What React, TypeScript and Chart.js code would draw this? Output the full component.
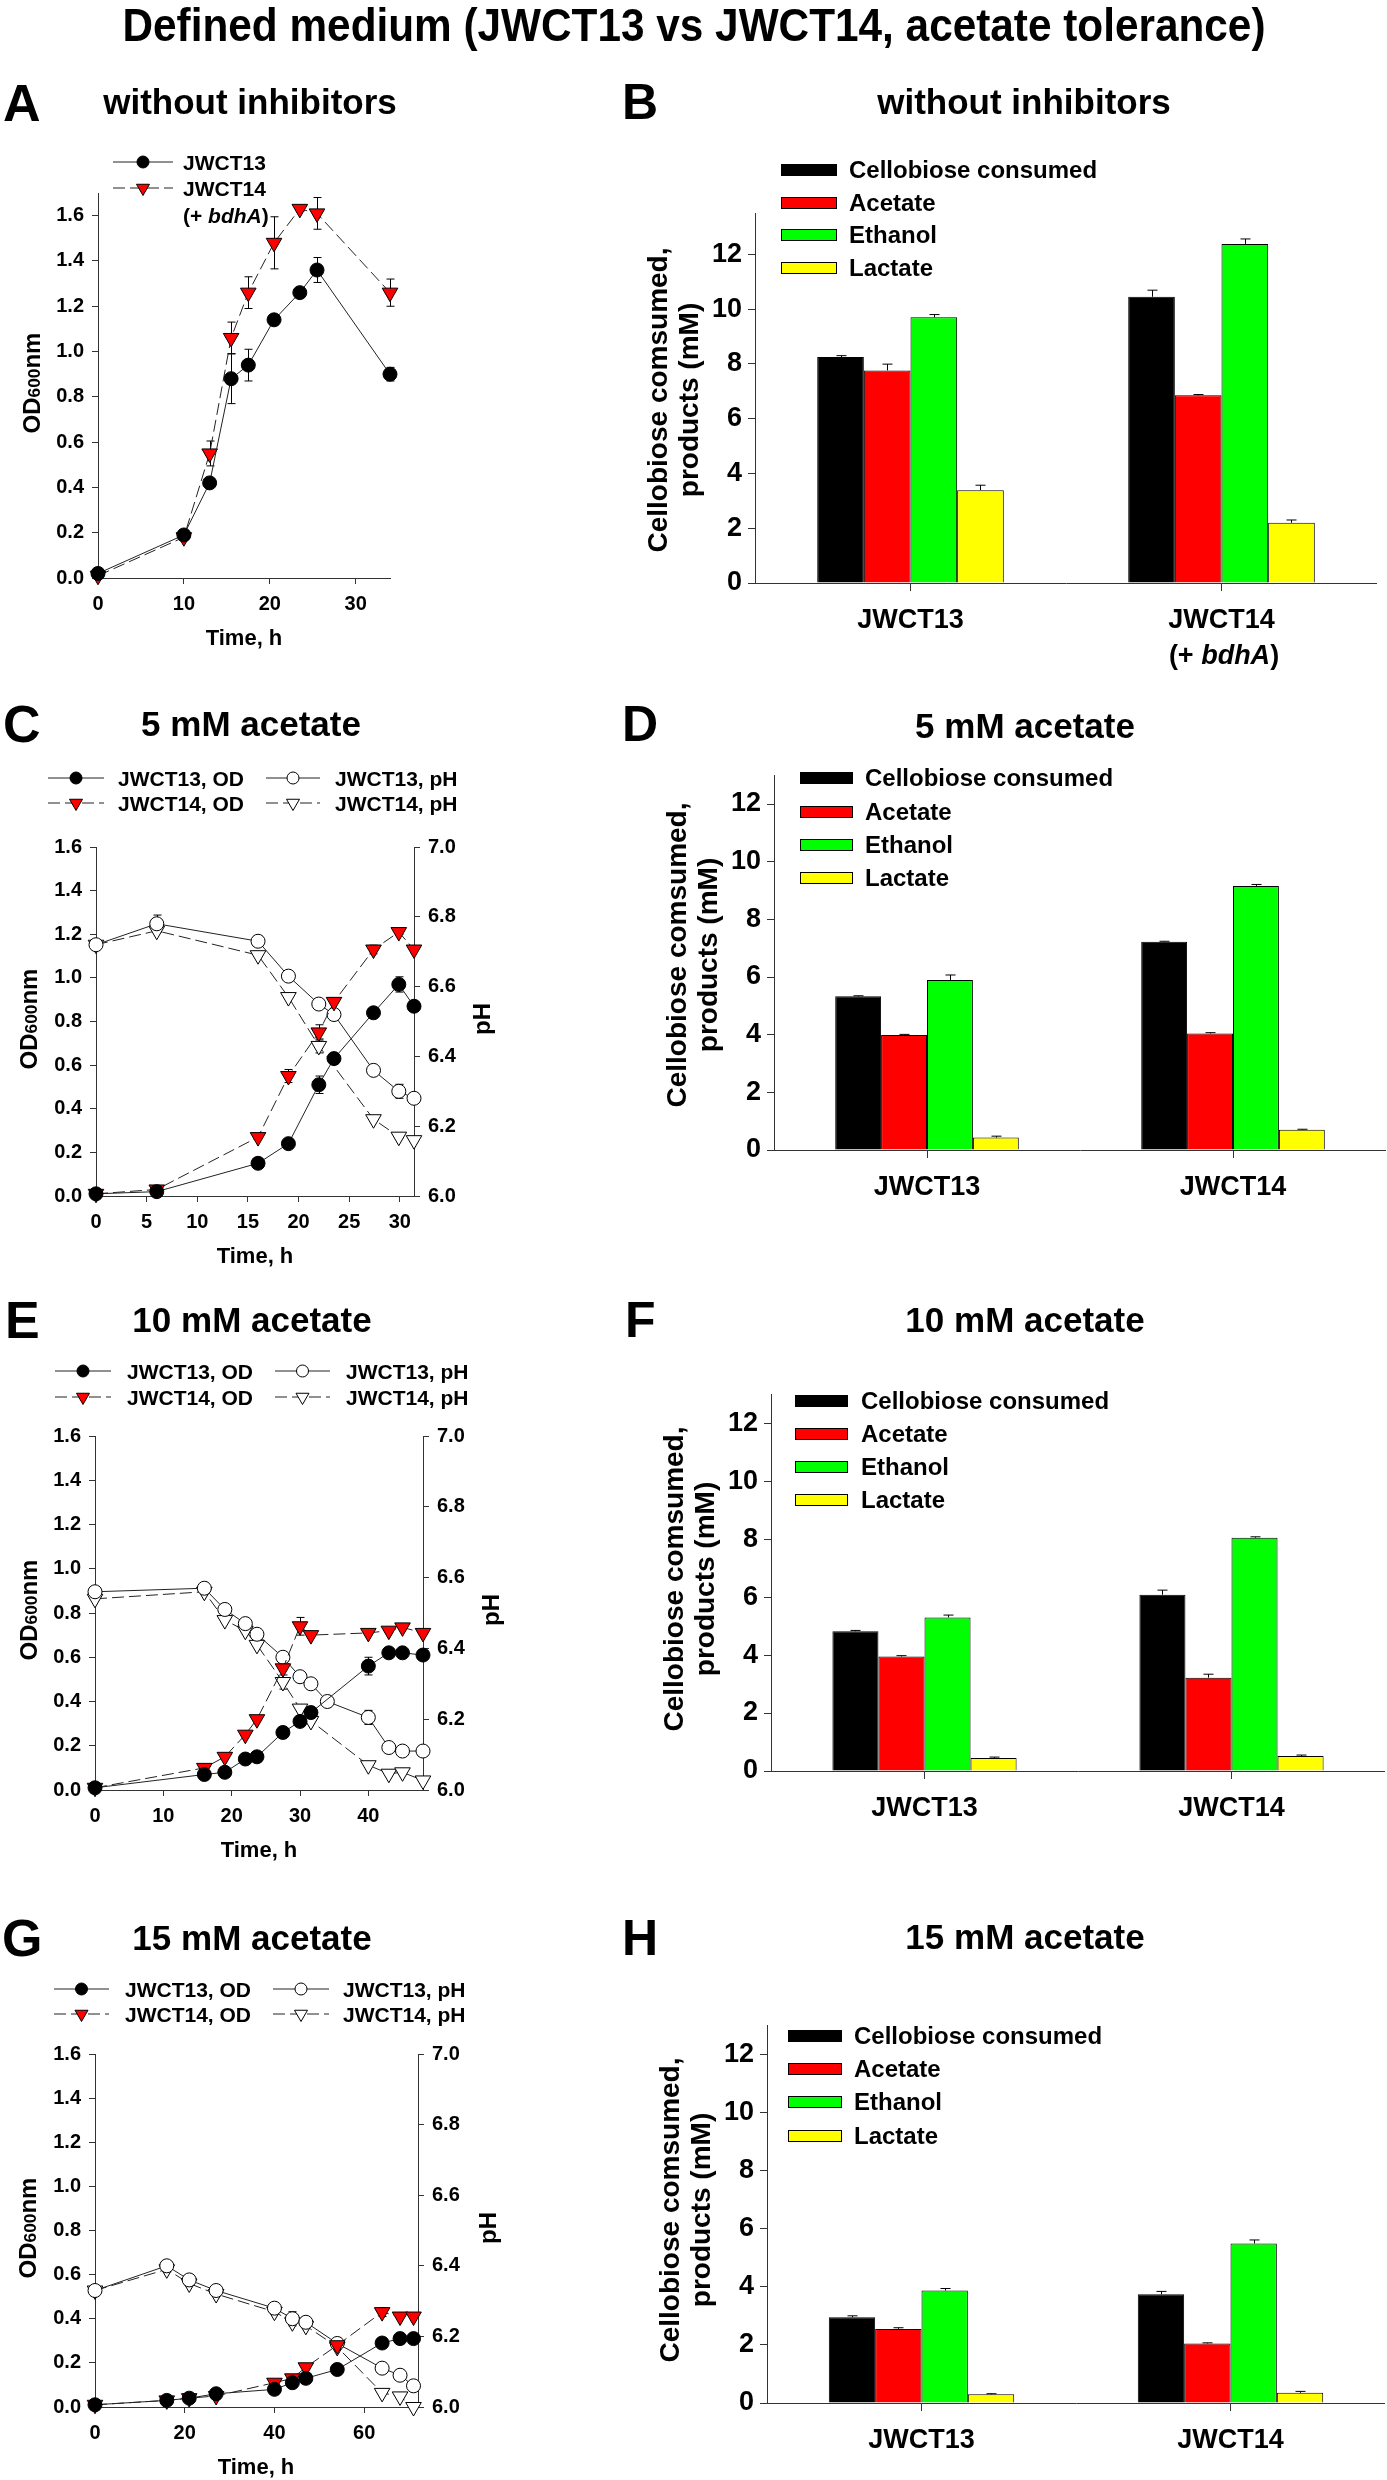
import React, { useEffect, useRef } from "react";
import { Chart, registerables } from "chart.js";

Chart.register(...registerables);

const FONT = "'Liberation Sans', Arial, Helvetica, sans-serif";
const AXIS_COLOR = "#333333";

// ---------------- Panel A : without inhibitors (OD600) ----------------
const timeA = [0, 10, 13, 15.5, 17.5, 20.5, 23.5, 25.5, 34];
const odA_13 = [0.02, 0.19, 0.42, 0.88, 0.94, 1.14, 1.26, 1.36, 0.9];
const errA_13 = [0.01, 0.01, 0.02, 0.11, 0.07, 0.02, 0.02, 0.055, 0.03];
const odA_14 = [0.01, 0.18, 0.55, 1.06, 1.26, 1.48, 1.63, 1.61, 1.26];
const errA_14 = [0.01, 0.01, 0.055, 0.07, 0.07, 0.115, 0.01, 0.07, 0.06];

// ---------------- Panel C : 5 mM acetate ----------------
const timeC = [0, 6, 16, 19, 22, 23.5, 27.4, 29.9, 31.4];
const odC_13 = [0.01, 0.02, 0.15, 0.24, 0.51, 0.63, 0.84, 0.97, 0.87];
const errC_13 = [0, 0, 0, 0, 0.04, 0, 0, 0.035, 0];
const odC_14 = [0.01, 0.03, 0.27, 0.55, 0.75, 0.89, 1.13, 1.21, 1.13];
const errC_14 = [0, 0, 0, 0.03, 0.035, 0, 0.02, 0.01, 0];
const phC_13 = [6.72, 6.78, 6.73, 6.63, 6.55, 6.52, 6.36, 6.3, 6.28];
const errPhC_13 = [0.01, 0.025, 0, 0, 0, 0, 0, 0.02, 0];
const timeC_ph14 = [0, 6, 16, 19, 22, 27.4, 29.9, 31.4];
const phC_14 = [6.72, 6.76, 6.69, 6.57, 6.43, 6.22, 6.17, 6.16];
const errPhC_14 = [0, 0, 0, 0, 0.02, 0, 0, 0];

// ---------------- Panel E : 10 mM acetate ----------------
const timeE = [0, 16, 19, 22, 23.7, 27.5, 30, 31.6, 40, 43, 45, 48];
const odE_13 = [0.01, 0.07, 0.08, 0.14, 0.15, 0.26, 0.31, 0.35, 0.56, 0.62, 0.62, 0.61];
const errE_13 = [0, 0, 0, 0, 0, 0, 0, 0, 0.04, 0, 0, 0];
const odE_14 = [0.01, 0.1, 0.15, 0.25, 0.32, 0.55, 0.74, 0.7, 0.71, 0.72, 0.735, 0.71];
const errE_14 = [0, 0, 0, 0, 0, 0.05, 0.04, 0, 0, 0, 0, 0];
const timeE_ph13 = [0, 16, 19, 22, 23.7, 27.5, 30, 31.6, 34, 40, 43, 45, 48];
const phE_13 = [6.56, 6.57, 6.51, 6.47, 6.44, 6.375, 6.32, 6.3, 6.25, 6.205, 6.12, 6.11, 6.11];
const errPhE_13 = [0.01, 0, 0, 0, 0, 0, 0, 0, 0, 0.02, 0, 0, 0];
const timeE_ph14 = [0, 16, 19, 22, 23.7, 27.5, 30, 31.6, 40, 43, 45, 48];
const phE_14 = [6.54, 6.56, 6.48, 6.45, 6.41, 6.305, 6.23, 6.195, 6.07, 6.046, 6.05, 6.027];
const errPhE_14 = [0, 0, 0, 0, 0, 0.02, 0, 0, 0, 0, 0, 0];

// ---------------- Panel G : 15 mM acetate ----------------
const timeG = [0, 16, 21, 27, 40, 44, 47, 54, 64, 68, 71];
const odG_13 = [0.01, 0.03, 0.04, 0.06, 0.08, 0.11, 0.13, 0.17, 0.29, 0.31, 0.31];
const errG_13 = [0, 0, 0, 0, 0, 0, 0, 0, 0.02, 0, 0.02];
const odG_14 = [0.01, 0.03, 0.04, 0.05, 0.11, 0.13, 0.18, 0.28, 0.43, 0.41, 0.41];
const errG_14 = [0, 0, 0, 0, 0, 0, 0, 0, 0.02, 0, 0];
const phG_13 = [6.33, 6.4, 6.36, 6.33, 6.28, 6.25, 6.24, 6.18, 6.11, 6.09, 6.06];
const errPhG_13 = [0, 0.01, 0, 0, 0, 0.02, 0, 0, 0, 0, 0];
const phG_14 = [6.33, 6.39, 6.35, 6.32, 6.27, 6.24, 6.23, 6.17, 6.04, 6.03, 6.0];
const errPhG_14 = [0, 0, 0, 0, 0, 0, 0, 0, 0, 0, 0];

// ---------------- Bar panels ----------------
const barCategories = ["JWCT13", "JWCT14"];
const productLabels = ["Cellobiose consumed", "Acetate", "Ethanol", "Lactate"];
const productColors = ["#000000", "#ff0000", "#00ff00", "#ffff00"];

// B : without inhibitors
const cellobioseB = [8.25, 10.45];
const acetateB = [7.76, 6.85];
const ethanolB = [9.7, 12.38];
const lactateB = [3.39, 2.2];
const errB = [[0.05, 0.24], [0.23, 0.03], [0.1, 0.18], [0.18, 0.1]];
// D : 5 mM acetate
const cellobioseD = [5.33, 7.22];
const acetateD = [3.99, 4.04];
const ethanolD = [5.9, 9.16];
const lactateD = [0.43, 0.7];
const errD = [[0.02, 0.02], [0.02, 0.03], [0.17, 0.05], [0.05, 0.02]];
// F : 10 mM acetate
const cellobioseF = [4.82, 6.08];
const acetateF = [3.95, 3.22];
const ethanolF = [5.3, 8.05];
const lactateF = [0.45, 0.52];
const errF = [[0.03, 0.16], [0.03, 0.12], [0.08, 0.03], [0.03, 0.03]];
// H : 15 mM acetate
const cellobioseH = [2.95, 3.74];
const acetateH = [2.55, 2.05];
const ethanolH = [3.87, 5.49];
const lactateH = [0.3, 0.35];
const errH = [[0.05, 0.1], [0.04, 0.02], [0.07, 0.12], [0.02, 0.05]];

const lineLegendLabels = ["JWCT13, OD", "JWCT14, OD", "JWCT13, pH", "JWCT14, pH"];

// ---------------- error bar plugin ----------------
function drawErrorBars(chart: any, barPhase: boolean) {
  const ctx = chart.ctx;
  chart.data.datasets.forEach((ds: any, di: number) => {
    const errs = ds.errors;
    if (!errs) return;
    const meta = chart.getDatasetMeta(di);
    const isBar = meta.type === "bar";
    if (isBar !== barPhase) return;
    const yScale = chart.scales[meta.yAxisID];
    ctx.save();
    ctx.strokeStyle = "#000";
    ctx.lineWidth = 1;
    meta.data.forEach((el: any, i: number) => {
      const e = errs[i];
      if (!e) return;
      const raw = ds.data[i];
      const v = typeof raw === "number" ? raw : raw.y;
      const x = Math.round(el.x) + 0.5;
      const yTop = yScale.getPixelForValue(v + e);
      const yBot = isBar ? el.y : yScale.getPixelForValue(v - e);
      const cap = isBar ? 5 : 4;
      ctx.beginPath();
      ctx.moveTo(x, yTop);
      ctx.lineTo(x, yBot);
      ctx.moveTo(x - cap, yTop);
      ctx.lineTo(x + cap, yTop);
      if (!isBar) {
        ctx.moveTo(x - cap, yBot);
        ctx.lineTo(x + cap, yBot);
      }
      ctx.stroke();
    });
    ctx.restore();
  });
}

const errorBarPlugin = {
  id: "errorBars",
  beforeDatasetsDraw(chart: any) {
    drawErrorBars(chart, false);
  },
  afterDatasetsDraw(chart: any) {
    drawErrorBars(chart, true);
  },
};

// ---------------- helpers ----------------
const tickFont = (size: number) => ({ family: FONT, size, weight: "bold" as const });

type Kind = "od13" | "od14" | "ph13" | "ph14";
function lineSet(xs: number[], ys: number[], errs: number[], kind: Kind) {
  const is14 = kind === "od14" || kind === "ph14";
  const isPh = kind === "ph13" || kind === "ph14";
  const fill = kind === "od13" ? "#000000" : kind === "od14" ? "#ff0000" : "#ffffff";
  return {
    data: xs.map((x, i) => ({ x, y: ys[i] })),
    errors: errs,
    yAxisID: isPh ? "y1" : "y",
    showLine: true,
    tension: 0,
    clip: false,
    borderColor: "#222222",
    borderWidth: 1,
    borderDash: is14 ? [12, 5] : [],
    pointStyle: is14 ? "triangle" : "circle",
    pointRotation: is14 ? 180 : 0,
    pointRadius: is14 ? 9 : 7,
    pointBackgroundColor: fill,
    pointBorderColor: "#000000",
    pointBorderWidth: 1,
  };
}

type Geom = { L: number; T: number; R: number; B: number };
const LAW = 80, LRW = 70, LTP = 15, LBH = 45;

function lineBox(g: Geom, dual: boolean) {
  const rw = dual ? LRW : 25;
  return { x: g.L - LAW, y: g.T - LTP, w: LAW + (g.R - g.L) + rw, h: LTP + (g.B - g.T) + LBH };
}

function lineConfig(g: Geom, datasets: any[], xMax: number, xStep: number, yMax: number, dual: boolean) {
  const yAxis = (pos: "left" | "right", min: number, max: number) => ({
    type: "linear",
    position: pos,
    min,
    max,
    ticks: {
      stepSize: 0.2,
      includeBounds: false,
      callback: (v: any) => Number(v).toFixed(1),
      font: tickFont(20),
      color: "#000",
      padding: 8,
    },
    grid: { drawOnChartArea: false, drawTicks: true, tickLength: 6, color: AXIS_COLOR },
    border: { display: true, color: AXIS_COLOR, width: 1 },
    afterFit: (s: any) => {
      s.width = pos === "left" ? LAW : LRW;
    },
  });
  const scales: any = {
    x: {
      type: "linear",
      position: "bottom",
      min: 0,
      max: xMax,
      ticks: {
        stepSize: xStep,
        includeBounds: false,
        font: tickFont(20),
        color: "#000",
        padding: 8,
        maxRotation: 0,
        autoSkip: false,
      },
      grid: { drawOnChartArea: false, drawTicks: true, tickLength: 6, color: AXIS_COLOR },
      border: { display: true, color: AXIS_COLOR, width: 1 },
      afterFit: (s: any) => {
        s.height = LBH;
      },
    },
    y: yAxis("left", 0, yMax),
  };
  if (dual) scales.y1 = yAxis("right", 6, 7);
  return {
    type: "scatter",
    data: { datasets },
    options: {
      responsive: false,
      animation: false,
      devicePixelRatio: 1,
      events: [],
      layout: { padding: { top: LTP, right: dual ? 0 : 25, left: 0, bottom: 0 }, autoPadding: false },
      plugins: { legend: { display: false }, tooltip: { enabled: false }, title: { display: false } },
      scales,
    },
    plugins: [errorBarPlugin],
  };
}

const BAW = 60, BTP = 15, BBH = 55;
function barBox(g: Geom) {
  return { x: g.L - BAW, y: g.T - BTP, w: BAW + (g.R - g.L), h: BTP + (g.B - g.T) + BBH };
}

function barConfig(values: number[][], errs: number[][], yMax: number) {
  return {
    type: "bar",
    data: {
      labels: barCategories,
      datasets: values.map((v, i) => ({
        label: productLabels[i],
        data: v,
        errors: errs[i],
        backgroundColor: productColors[i],
        borderColor: "#000000",
        borderWidth: 1,
        barPercentage: 1,
        categoryPercentage: 0.6,
      })),
    },
    options: {
      responsive: false,
      animation: false,
      devicePixelRatio: 1,
      events: [],
      layout: { padding: { top: BTP, right: 0, left: 0, bottom: 0 }, autoPadding: false },
      plugins: { legend: { display: false }, tooltip: { enabled: false }, title: { display: false } },
      scales: {
        x: {
          type: "category",
          offset: true,
          ticks: { font: tickFont(27), color: "#000", padding: 13, maxRotation: 0, autoSkip: false },
          grid: { offset: false, drawOnChartArea: false, drawTicks: true, tickLength: 8, color: AXIS_COLOR },
          border: { display: true, color: AXIS_COLOR, width: 1 },
          afterFit: (s: any) => {
            s.height = BBH;
          },
        },
        y: {
          type: "linear",
          min: 0,
          max: yMax,
          ticks: { stepSize: 2, includeBounds: false, font: tickFont(27), color: "#000", padding: 6 },
          grid: { drawOnChartArea: false, drawTicks: true, tickLength: 7, color: AXIS_COLOR },
          border: { display: true, color: AXIS_COLOR, width: 1 },
          afterFit: (s: any) => {
            s.width = BAW;
          },
        },
      },
    },
    plugins: [errorBarPlugin],
  };
}

function ChartBox({ box, make }: { box: { x: number; y: number; w: number; h: number }; make: () => any }) {
  const ref = useRef<HTMLCanvasElement>(null);
  useEffect(() => {
    const chart = new Chart(ref.current as HTMLCanvasElement, make());
    return () => chart.destroy();
  }, []);
  return (
    <canvas
      ref={ref}
      width={box.w}
      height={box.h}
      style={{ position: "absolute", left: box.x, top: box.y, width: box.w, height: box.h }}
    />
  );
}

function Txt({
  x, y, size, align = "left", rot, sx, children,
}: { x: number; y: number; size: number; align?: "left" | "center" | "right"; rot?: number; sx?: number; children: React.ReactNode }) {
  const tx = align === "center" ? "-50%" : align === "right" ? "-100%" : "0";
  return (
    <div
      style={{
        position: "absolute",
        left: x,
        top: y,
        transform: `translate(${tx}, -50%)${rot ? ` rotate(${rot}deg)` : ""}${sx ? ` scaleX(${sx})` : ""}`,
        fontFamily: FONT,
        fontWeight: 700,
        fontSize: size,
        lineHeight: 1,
        whiteSpace: "nowrap",
        color: "#000",
      }}
    >
      {children}
    </div>
  );
}

// ---------------- geometry ----------------
const gA: Geom = { L: 98, T: 188, R: 390, B: 578 };
const gC: Geom = { L: 96, T: 842, R: 414, B: 1196 };
const gE: Geom = { L: 95, T: 1431, R: 423, B: 1790 };
const gG: Geom = { L: 95, T: 2049, R: 418, B: 2407 };
const gB: Geom = { L: 755, T: 206, R: 1377, B: 583 };
const gD: Geom = { L: 774, T: 768, R: 1386, B: 1150 };
const gF: Geom = { L: 771, T: 1387, R: 1385, B: 1771 };
const gH: Geom = { L: 767, T: 2018, R: 1385, B: 2403 };

function Marker({ cx, cy, kind, r }: { cx: number; cy: number; kind: Kind; r: number }) {
  const fill = kind === "od13" ? "#000" : kind === "od14" ? "#ff0000" : "#fff";
  if (kind === "od13" || kind === "ph13") {
    return <circle cx={cx} cy={cy} r={r} fill={fill} stroke="#000" strokeWidth={1} />;
  }
  const R = r * 1.25;
  const dx = R * 0.866;
  return (
    <polygon
      points={`${cx},${cy + R} ${cx - dx},${cy - R / 2} ${cx + dx},${cy - R / 2}`}
      fill={fill}
      stroke="#000"
      strokeWidth={1}
    />
  );
}

function LegendSym({ x1, x2, y, kind }: { x1: number; x2: number; y: number; kind: Kind }) {
  const dashed = kind === "od14" || kind === "ph14";
  return (
    <g>
      <line x1={x1} y1={y} x2={x2} y2={y} stroke="#222" strokeWidth={1} strokeDasharray={dashed ? "12 5" : undefined} />
      <Marker cx={(x1 + x2) / 2} cy={y} kind={kind} r={6} />
    </g>
  );
}

const OD = () => (
  <>
    OD<span style={{ fontSize: "0.72em" }}>600</span>nm
  </>
);

type LineLegendPos = { rows: number[]; c1: [number, number]; t1: number; c2: [number, number]; t2: number };
const legC: LineLegendPos = { rows: [778, 803], c1: [48, 104], t1: 118, c2: [266, 320], t2: 335 };
const legE: LineLegendPos = { rows: [1371, 1397], c1: [55, 111], t1: 127, c2: [275, 330], t2: 346 };
const legG: LineLegendPos = { rows: [1989, 2014], c1: [54, 109], t1: 125, c2: [273, 329], t2: 343 };

type BarLegendPos = { x1: number; x2: number; rows: number[]; tx: number };
const legB: BarLegendPos = { x1: 781, x2: 836, rows: [170, 203, 235, 268], tx: 849 };
const legD: BarLegendPos = { x1: 800, x2: 852, rows: [778, 812, 845, 878], tx: 865 };
const legF: BarLegendPos = { x1: 795, x2: 847, rows: [1401, 1434, 1467, 1500], tx: 861 };
const legH: BarLegendPos = { x1: 788, x2: 841, rows: [2036, 2069, 2102, 2136], tx: 854 };

export default function App() {
  const kinds: Kind[] = ["od13", "od14", "ph13", "ph14"];
  const lineLegendSvg = (p: LineLegendPos) =>
    kinds.map((k, i) => {
      const col = i < 2 ? p.c1 : p.c2;
      const y = p.rows[i % 2];
      return <LegendSym key={k} x1={col[0]} x2={col[1]} y={y} kind={k} />;
    });
  const lineLegendText = (p: LineLegendPos) =>
    lineLegendLabels.map((lab, i) => (
      <Txt key={lab} x={i < 2 ? p.t1 : p.t2} y={p.rows[i % 2]} size={21}>
        {lab}
      </Txt>
    ));
  const barLegendSvg = (p: BarLegendPos) =>
    productColors.map((c, i) => (
      <rect key={c} x={p.x1 + 0.5} y={p.rows[i] - 5.5} width={p.x2 - p.x1} height={11} fill={c} stroke="#000" strokeWidth={1} />
    ));
  const barLegendText = (p: BarLegendPos) =>
    productLabels.map((lab, i) => (
      <Txt key={lab} x={p.tx} y={p.rows[i]} size={24}>
        {lab}
      </Txt>
    ));
  const barYTitle = (g: Geom, cy: number) => (
    <>
      <Txt x={g.L - 97} y={cy} size={28} align="center" rot={-90}>
        Cellobiose comsumed,
      </Txt>
      <Txt x={g.L - 66} y={cy} size={28} align="center" rot={-90}>
        products (mM)
      </Txt>
    </>
  );

  return (
    <div style={{ position: "absolute", left: 0, top: 0, width: 1387, height: 2480, background: "#fff", overflow: "hidden" }}>
      {/* line panels */}
      <ChartBox
        box={lineBox(gA, false)}
        make={() =>
          lineConfig(gA, [lineSet(timeA, odA_13, errA_13, "od13"), lineSet(timeA, odA_14, errA_14, "od14")], 34, 10, 1.7, false)
        }
      />
      <ChartBox
        box={lineBox(gC, true)}
        make={() =>
          lineConfig(
            gC,
            [
              lineSet(timeC, odC_13, errC_13, "od13"),
              lineSet(timeC, odC_14, errC_14, "od14"),
              lineSet(timeC, phC_13, errPhC_13, "ph13"),
              lineSet(timeC_ph14, phC_14, errPhC_14, "ph14"),
            ],
            31.4, 5, 1.6, true
          )
        }
      />
      <ChartBox
        box={lineBox(gE, true)}
        make={() =>
          lineConfig(
            gE,
            [
              lineSet(timeE, odE_13, errE_13, "od13"),
              lineSet(timeE, odE_14, errE_14, "od14"),
              lineSet(timeE_ph13, phE_13, errPhE_13, "ph13"),
              lineSet(timeE_ph14, phE_14, errPhE_14, "ph14"),
            ],
            48, 10, 1.6, true
          )
        }
      />
      <ChartBox
        box={lineBox(gG, true)}
        make={() =>
          lineConfig(
            gG,
            [
              lineSet(timeG, odG_13, errG_13, "od13"),
              lineSet(timeG, odG_14, errG_14, "od14"),
              lineSet(timeG, phG_13, errPhG_13, "ph13"),
              lineSet(timeG, phG_14, errPhG_14, "ph14"),
            ],
            72, 20, 1.6, true
          )
        }
      />
      {/* bar panels */}
      <ChartBox box={barBox(gB)} make={() => barConfig([cellobioseB, acetateB, ethanolB, lactateB], errB, 13.5)} />
      <ChartBox box={barBox(gD)} make={() => barConfig([cellobioseD, acetateD, ethanolD, lactateD], errD, 13)} />
      <ChartBox box={barBox(gF)} make={() => barConfig([cellobioseF, acetateF, ethanolF, lactateF], errF, 13)} />
      <ChartBox box={barBox(gH)} make={() => barConfig([cellobioseH, acetateH, ethanolH, lactateH], errH, 13)} />

      {/* legend symbols */}
      <svg width={1387} height={2480} style={{ position: "absolute", left: 0, top: 0 }}>
        <LegendSym x1={113} x2={173} y={162} kind="od13" />
        <LegendSym x1={113} x2={173} y={188} kind="od14" />
        {lineLegendSvg(legC)}
        {lineLegendSvg(legE)}
        {lineLegendSvg(legG)}
        {barLegendSvg(legB)}
        {barLegendSvg(legD)}
        {barLegendSvg(legF)}
        {barLegendSvg(legH)}
      </svg>

      {/* main title */}
      <Txt x={694} y={25} size={46} align="center" sx={0.92}>
        Defined medium (JWCT13 vs JWCT14, acetate tolerance)
      </Txt>

      {/* panel letters */}
      <Txt x={3} y={103} size={52}>A</Txt>
      <Txt x={622} y={102} size={50}>B</Txt>
      <Txt x={3} y={724} size={52}>C</Txt>
      <Txt x={622} y={724} size={50}>D</Txt>
      <Txt x={5} y={1320} size={52}>E</Txt>
      <Txt x={625} y={1320} size={50}>F</Txt>
      <Txt x={2} y={1938} size={52}>G</Txt>
      <Txt x={622} y={1938} size={50}>H</Txt>

      {/* panel titles */}
      <Txt x={250} y={101} size={35} align="center">without inhibitors</Txt>
      <Txt x={1024} y={101} size={35} align="center">without inhibitors</Txt>
      <Txt x={251} y={723} size={35} align="center">5 mM acetate</Txt>
      <Txt x={1025} y={725} size={35} align="center">5 mM acetate</Txt>
      <Txt x={252} y={1319} size={35} align="center">10 mM acetate</Txt>
      <Txt x={1025} y={1319} size={35} align="center">10 mM acetate</Txt>
      <Txt x={252} y={1937} size={35} align="center">15 mM acetate</Txt>
      <Txt x={1025} y={1936} size={35} align="center">15 mM acetate</Txt>

      {/* legend A */}
      <Txt x={183} y={162} size={21}>JWCT13</Txt>
      <Txt x={183} y={188} size={21}>JWCT14</Txt>
      <Txt x={183} y={215} size={21}>
        (+ <i>bdhA</i>)
      </Txt>
      {lineLegendText(legC)}
      {lineLegendText(legE)}
      {lineLegendText(legG)}
      {barLegendText(legB)}
      {barLegendText(legD)}
      {barLegendText(legF)}
      {barLegendText(legH)}

      {/* axis titles, line panels */}
      <Txt x={32} y={383} size={24} align="center" rot={-90}><OD /></Txt>
      <Txt x={29} y={1019} size={24} align="center" rot={-90}><OD /></Txt>
      <Txt x={29} y={1610} size={24} align="center" rot={-90}><OD /></Txt>
      <Txt x={28} y={2228} size={24} align="center" rot={-90}><OD /></Txt>
      <Txt x={482} y={1019} size={24} align="center" rot={-90}>pH</Txt>
      <Txt x={491} y={1610} size={24} align="center" rot={-90}>pH</Txt>
      <Txt x={488} y={2228} size={24} align="center" rot={-90}>pH</Txt>
      <Txt x={244} y={638} size={22} align="center">Time, h</Txt>
      <Txt x={255} y={1256} size={22} align="center">Time, h</Txt>
      <Txt x={259} y={1850} size={22} align="center">Time, h</Txt>
      <Txt x={256} y={2467} size={22} align="center">Time, h</Txt>

      {/* axis titles, bar panels */}
      {barYTitle(gB, 400)}
      {barYTitle(gD, 955)}
      {barYTitle(gF, 1579)}
      {barYTitle(gH, 2210)}
      <Txt x={1224} y={655} size={27} align="center">
        (+ <i>bdhA</i>)
      </Txt>
    </div>
  );
}
